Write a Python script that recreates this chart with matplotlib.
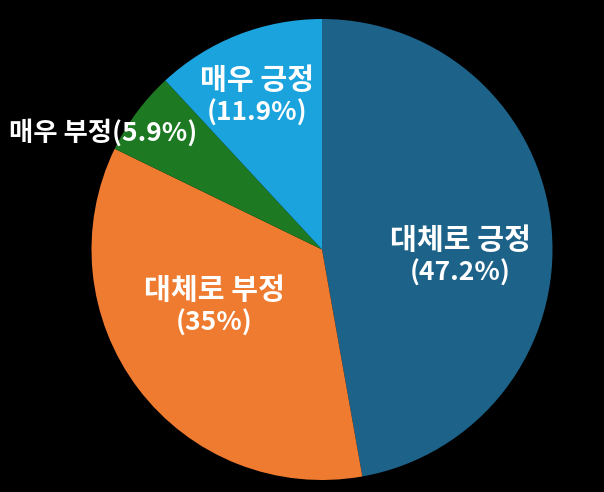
import numpy as np
import matplotlib.pyplot as plt

plt.rcParams['font.family'] = ['Noto Sans CJK KR', 'DejaVu Sans']

# 데이터
labels = ['대체로 긍정', '대체로 부정', '매우 부정', '매우 긍정']
values = [47.2, 35, 5.9, 11.9]
pct_text = ['47.2%', '35%', '5.9%', '11.9%']
colors = ['#1d6389', '#ee7b30', '#1d7a22', '#1ba3dd']

# 라벨 위치 (반지름 비율, 각도 보정)
label_dist = [0.60, 0.53, 0.74, 0.72]
label_shift = [-8, -9, -6.5, 1.7]

fig = plt.figure(figsize=(6.04, 4.92), dpi=100, facecolor='black')
cx, cy, r = 322, 249.5, 230.5
ax = fig.add_axes([(cx - r) / 604, (492 - cy - r) / 492, 2 * r / 604, 2 * r / 492])
ax.set_facecolor('black')

wedges, _ = ax.pie(values, colors=colors, startangle=90, counterclock=False,
                   radius=1, wedgeprops={'linewidth': 0})
ax.set_xlim(-1, 1)
ax.set_ylim(-1, 1)
ax.axis('off')

half = 0.072  # 줄 간격 절반
for i, w in enumerate(wedges):
    ang = np.deg2rad((w.theta1 + w.theta2) / 2 + label_shift[i])
    d = label_dist[i]
    x, y = d * np.cos(ang), d * np.sin(ang)
    if labels[i] == '매우 부정':
        ax.text(x, y, f'{labels[i]}({pct_text[i]})', ha='right', va='center',
                color='white', fontsize=19, fontweight='bold')
    else:
        ax.text(x, y + half, labels[i], ha='center', va='center',
                color='white', fontsize=21, fontweight='bold')
        ax.text(x, y - half, f'({pct_text[i]})', ha='center', va='center',
                color='white', fontsize=19, fontweight='bold')

fig.savefig('out.png', dpi=100, facecolor='black')
